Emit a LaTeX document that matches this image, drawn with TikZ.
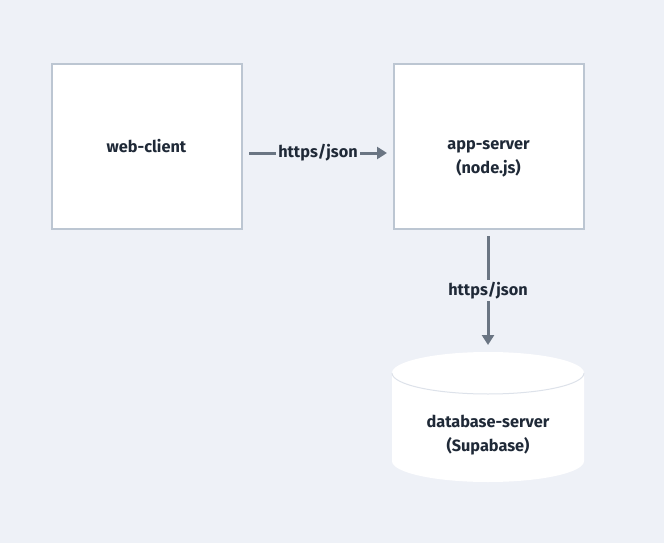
\documentclass[tikz,border=0pt]{standalone}
\usepackage{fontspec}
\setmainfont{Fira Sans}
\usetikzlibrary{arrows.meta}
\definecolor{bg}{HTML}{EEF1F7}
\definecolor{boxline}{HTML}{BCC6D2}
\definecolor{arr}{HTML}{6A7583}
\definecolor{txt}{HTML}{1F2937}
\definecolor{rim}{HTML}{DDE2EA}
\tikzset{
  box/.style={draw=boxline, line width=2pt, fill=white, minimum width=190pt, minimum height=164pt, inner sep=0pt},
  lbl/.style={font=\fontsize{16.3}{24}\selectfont\bfseries, text=txt, align=center},
  conn/.style={draw=arr, line width=3pt, -{Triangle[length=10pt,width=12pt]}},
  elbl/.style={lbl, fill=bg, inner sep=2pt}
}
\begin{document}
\begin{tikzpicture}[x=1pt,y=-1pt]
\fill[bg] (0,0) rectangle (664,543);
\useasboundingbox (0,0) rectangle (664,543);
\node[box] (web) at (146.5,146.5) {};
\node[lbl] at (146.5,146.5) {web-client};
\node[box] (app) at (488.5,146.5) {};
\node[lbl] at (488.5,158.5) {app-server\\(node.js)};
% cylinder
\fill[white] (392,373) -- (392,461) arc[start angle=180, end angle=0, x radius=96, y radius=21] -- (584,373) arc[start angle=0, end angle=-180, x radius=96, y radius=21] -- cycle;
\draw[rim, line width=1pt] (392,373) arc[start angle=180, end angle=0, x radius=96, y radius=21];
\node[lbl] (db) at (488,435.5) {database-server\\(Supabase)};
\coordinate (a1) at (249,153);
\coordinate (a2) at (387,153);
\coordinate (b1) at (488,236);
\coordinate (b2) at (488,345);
\draw[conn] (a1) -- node[elbl] {https/json} (a2);
\draw[conn] (b1) -- node[elbl] {https/json} (b2);
\end{tikzpicture}
\end{document}
